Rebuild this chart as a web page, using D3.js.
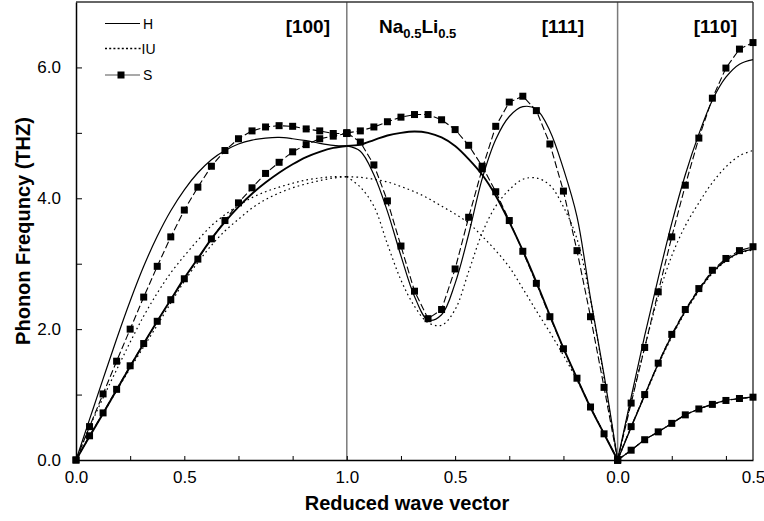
<!DOCTYPE html>
<html><head><meta charset="utf-8">
<script src="https://cdn.jsdelivr.net/npm/d3@7"></script>
<style>
body{margin:0;background:#fff}
svg{display:block}
text{font-family:"Liberation Sans",Arial,sans-serif}
</style>
</head><body>
<svg id="chart" width="764" height="521"></svg>
<script>
// ---- reduced wave vector grids (per section) ----
const q21 = [0,0.05,0.1,0.15,0.2,0.25,0.3,0.35,0.4,0.45,0.5,0.55,0.6,0.65,0.7,0.75,0.8,0.85,0.9,0.95,1.0];
const q11 = [0,0.05,0.1,0.15,0.2,0.25,0.3,0.35,0.4,0.45,0.5];
// section start positions on the plotting axis
const sectionStart = {s100: 0, s111: 1, s110: 2};

// ---- [100] ----
const hL100  = [0,0.62,1.24,1.85,2.43,2.96,3.42,3.81,4.13,4.39,4.59,4.73,4.83,4.89,4.92,4.93,4.91,4.88,4.84,4.81,4.80];
const hT100  = [0,0.36,0.71,1.07,1.43,1.78,2.12,2.45,2.78,3.08,3.38,3.64,3.87,4.07,4.24,4.39,4.52,4.63,4.71,4.77,4.80];
const iuL100 = [0,0.5,0.95,1.38,1.8,2.2,2.55,2.86,3.12,3.36,3.58,3.75,3.89,4.01,4.1,4.17,4.23,4.28,4.31,4.33,4.33];
const iuT100 = [0,0.36,0.71,1.06,1.4,1.73,2.06,2.4,2.73,3.02,3.28,3.5,3.68,3.85,3.98,4.08,4.16,4.22,4.27,4.31,4.33];
const sL100  = [0,0.51,1.01,1.51,2.0,2.49,2.96,3.41,3.82,4.17,4.49,4.73,4.91,5.03,5.09,5.11,5.10,5.06,5.03,4.99,4.99];
const sT100  = [0,0.37,0.72,1.08,1.44,1.78,2.12,2.45,2.77,3.07,3.38,3.66,3.93,4.16,4.38,4.55,4.71,4.82,4.91,4.95,4.99];

// ---- [111] ----
const hL111  = [4.80,4.72,4.36,3.80,3.12,2.50,2.14,2.22,2.70,3.45,4.30,4.90,5.25,5.40,5.36,5.03,4.45,3.72,2.47,1.30,0];
const hT111  = [4.80,4.82,4.89,4.96,5.0,5.02,5.0,4.93,4.80,4.60,4.36,4.04,3.64,3.20,2.72,2.21,1.71,1.25,0.80,0.40,0];
const iuL111 = [4.33,4.17,3.88,3.30,2.75,2.35,2.10,2.06,2.30,2.88,3.47,3.88,4.13,4.29,4.31,4.20,3.87,3.38,2.45,1.25,0];
const iuT111 = [4.33,4.32,4.29,4.25,4.18,4.10,4.00,3.88,3.76,3.62,3.42,3.20,2.95,2.62,2.28,1.95,1.60,1.22,0.80,0.40,0];
const sL111  = [5.0,4.86,4.51,3.96,3.27,2.58,2.16,2.30,2.92,3.71,4.45,5.10,5.47,5.56,5.34,4.83,4.11,3.20,2.19,1.11,0];
const sT111  = [5.0,5.03,5.09,5.17,5.24,5.28,5.28,5.20,5.05,4.81,4.49,4.10,3.66,3.19,2.70,2.19,1.70,1.25,0.81,0.40,0];

// ---- [110] ----
const hL110  = [0,0.96,1.9,2.78,3.62,4.36,4.98,5.50,5.85,6.05,6.12];
const hT1110 = [0,0.5,0.99,1.47,1.9,2.28,2.6,2.87,3.05,3.17,3.22];
const hT2110 = [0,0.15,0.31,0.43,0.56,0.69,0.78,0.85,0.91,0.94,0.96];
const iuL110 = [0,0.9,1.72,2.5,3.12,3.58,3.93,4.24,4.48,4.65,4.73];
const iuT1110= [0,0.5,0.98,1.45,1.88,2.26,2.58,2.85,3.04,3.16,3.21];
const iuT2110= [0,0.15,0.31,0.43,0.56,0.69,0.78,0.85,0.91,0.94,0.96];
const sL110  = [0,0.87,1.72,2.57,3.41,4.20,4.92,5.53,5.99,6.28,6.38];
const sT1110 = [0,0.51,1.0,1.48,1.92,2.30,2.62,2.90,3.08,3.20,3.26];
const sT2110 = [0,0.15,0.31,0.43,0.56,0.69,0.78,0.85,0.91,0.94,0.96];

// ---- axes ----
const xTickVals  = [0,0.2,0.4,0.6,0.8,1.0,1.2,1.4,1.6,1.8,2.0,2.2,2.4];
const xLabelVals = [0,0.4,1.0,1.4,2.0,2.5];
const xLabelText = ["0.0","0.5","1.0","0.5","0.0","0.5"];
const yTickVals  = [0,1,2,3,4,5,6];
const yLabelVals = [0,2,4,6];
const yLabelText = ["0.0","2.0","4.0","6.0"];
const dividers   = [1,2];
const dirLabels  = ["[100]","[111]","[110]"];
const legendNames= ["H","IU","S"];

const svg = d3.select("#chart");
const x = d3.scaleLinear().domain([0,2.5]).range([76,753]);
const y = d3.scaleLinear().domain([0,7]).range([460,2]);

// build series
function pts(start, qs, vs){ return qs.map((q,i)=>[start+q, vs[i]]); }
const S = sectionStart;
const seriesH = [
  {d:pts(S.s100,q21,hL100),w:1.2},{d:pts(S.s100,q21,hT100),w:1.9},
  {d:pts(S.s111,q21,hL111),w:1.2},{d:pts(S.s111,q21,hT111),w:1.9},
  {d:pts(S.s110,q11,hL110),w:1.2},{d:pts(S.s110,q11,hT1110),w:1.4},{d:pts(S.s110,q11,hT2110),w:1.2}
];
const seriesIU = [
  pts(S.s100,q21,iuL100),pts(S.s100,q21,iuT100),
  pts(S.s111,q21,iuL111),pts(S.s111,q21,iuT111),
  pts(S.s110,q11,iuL110),pts(S.s110,q11,iuT1110),pts(S.s110,q11,iuT2110)
];
const seriesS = [
  pts(S.s100,q21,sL100),pts(S.s100,q21,sT100),
  pts(S.s111,q21,sL111),pts(S.s111,q21,sT111),
  pts(S.s110,q11,sL110),pts(S.s110,q11,sT1110),pts(S.s110,q11,sT2110)
];

const smooth = d3.line().x(d=>x(d[0])).y(d=>y(d[1])).curve(d3.curveCatmullRom.alpha(0.5));
const straight = d3.line().x(d=>x(d[0])).y(d=>y(d[1]));

// dividers
svg.selectAll("line.div").data(dividers).enter().append("line")
  .attr("x1",d=>x(d)).attr("x2",d=>x(d)).attr("y1",y(7)).attr("y2",y(0))
  .attr("stroke","#7a7a7a").attr("stroke-width",1.5);

// frame top/right
svg.append("line").attr("x1",x(0)).attr("x2",x(2.5)).attr("y1",y(7)).attr("y2",y(7)).attr("stroke","#333").attr("stroke-width",1.4);
svg.append("line").attr("x1",x(2.5)).attr("x2",x(2.5)).attr("y1",y(7)).attr("y2",y(0)).attr("stroke","#333").attr("stroke-width",1.4);

// IU dotted
svg.append("g").selectAll("path").data(seriesIU).enter().append("path")
  .attr("d",smooth).attr("fill","none").attr("stroke","#000").attr("stroke-width",1.2)
  .attr("stroke-dasharray","1.6,3.2");
// H solid
svg.append("g").selectAll("path").data(seriesH).enter().append("path")
  .attr("d",d=>smooth(d.d)).attr("fill","none").attr("stroke","#000").attr("stroke-width",d=>d.w);
// S dashed + markers
svg.append("g").selectAll("path").data(seriesS).enter().append("path")
  .attr("d",straight).attr("fill","none").attr("stroke","#000").attr("stroke-width",1.1)
  .attr("stroke-dasharray","7,3");
svg.append("g").selectAll("rect").data(seriesS.flat()).enter().append("rect")
  .attr("x",d=>x(d[0])-3.5).attr("y",d=>y(d[1])-3.5).attr("width",7).attr("height",7).attr("fill","#000");

// axes
const gx = svg.append("g").attr("transform",`translate(0,${y(0)})`)
  .call(d3.axisBottom(x).tickValues(xTickVals).tickSizeInner(-4).tickSizeOuter(0).tickFormat(""));
gx.select(".domain").attr("stroke","#000").attr("stroke-width",1.5);
gx.selectAll(".tick line").attr("stroke","#000").attr("stroke-width",1);
const gxl = svg.append("g").attr("transform",`translate(0,${y(0)})`)
  .call(d3.axisBottom(x).tickValues(xLabelVals).tickSize(0).tickPadding(11)
  .tickFormat((d,i)=>xLabelText[i]));
gxl.select(".domain").remove();
gxl.selectAll("text").attr("font-size",17).attr("fill","#000").style("font-family","'Liberation Sans',Arial,sans-serif");

const gy = svg.append("g").attr("transform",`translate(${x(0)},0)`)
  .call(d3.axisLeft(y).tickValues(yTickVals).tickSizeInner(-6).tickSizeOuter(0).tickFormat(""));
gy.select(".domain").attr("stroke","#000").attr("stroke-width",1.5);
gy.selectAll(".tick line").attr("stroke","#000").attr("stroke-width",1);
const gyl = svg.append("g").attr("transform",`translate(${x(0)},0)`)
  .call(d3.axisLeft(y).tickValues(yLabelVals).tickSize(0).tickPadding(15)
  .tickFormat((d,i)=>yLabelText[i]));
gyl.select(".domain").remove();
gyl.selectAll("text").attr("font-size",17).attr("fill","#000").style("font-family","'Liberation Sans',Arial,sans-serif");

// axis titles
svg.append("text").attr("x",407).attr("y",510).attr("text-anchor","middle")
  .attr("font-size",20).attr("font-weight","bold").text("Reduced wave vector");
svg.append("text").attr("transform","translate(30,231) rotate(-90)").attr("text-anchor","middle")
  .attr("font-size",20).attr("font-weight","bold").text("Phonon Frequncy (THZ)");

// direction labels
const dirX = [330,584,737];
svg.selectAll("text.dir").data(dirLabels).enter().append("text")
  .attr("x",(d,i)=>dirX[i]).attr("y",33).attr("text-anchor","end")
  .attr("font-size",19).attr("font-weight","bold").text(d=>d);
const comp = svg.append("text").attr("x",379).attr("y",33).attr("font-size",19).attr("font-weight","bold");
comp.append("tspan").text("Na");
comp.append("tspan").attr("font-size",13).attr("dy",5).text("0.5");
comp.append("tspan").attr("dy",-5).text("Li");
comp.append("tspan").attr("font-size",13).attr("dy",5).text("0.5");

// legend
const lg = svg.append("g");
const ly = [23.5,48.5,75];
lg.append("line").attr("x1",105).attr("x2",140).attr("y1",ly[0]).attr("y2",ly[0]).attr("stroke","#000").attr("stroke-width",1.2);
lg.append("line").attr("x1",105).attr("x2",141).attr("y1",ly[1]).attr("y2",ly[1]).attr("stroke","#000").attr("stroke-width",1.6).attr("stroke-dasharray","2,2.2");
lg.append("line").attr("x1",105).attr("x2",140).attr("y1",ly[2]).attr("y2",ly[2]).attr("stroke","#555").attr("stroke-width",1.2);
lg.append("rect").attr("x",121-3.5).attr("y",ly[2]-3.5).attr("width",7).attr("height",7).attr("fill","#000");
lg.selectAll("text").data(legendNames).enter().append("text")
  .attr("x",(d,i)=>i===1?141.5:143).attr("y",(d,i)=>ly[i]+5).attr("font-size",14).text(d=>d);
</script>
</body></html>
